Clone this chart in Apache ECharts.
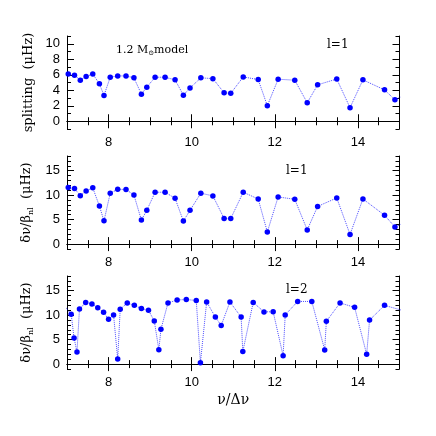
<!DOCTYPE html>
<html>
<head>
<meta charset="utf-8">
<script src="https://cdn.jsdelivr.net/npm/echarts@6/dist/echarts.min.js"></script>
<style>
  html, body { margin: 0; padding: 0; background: #fff; }
  #chart { width: 436px; height: 436px; }
</style>
</head>
<body>
<div id="chart"></div>
<script>
// nu/dnu positions of the l=1 modes (top two panels)
var nuL1 = [7.03, 7.18, 7.32, 7.46, 7.62, 7.78, 7.89, 8.04, 8.22, 8.42, 8.61, 8.79, 8.92, 9.12, 9.36, 9.60, 9.80, 9.96,
  10.22, 10.51, 10.78, 10.94, 11.24, 11.60, 11.82, 12.08, 12.48, 12.78, 13.03, 13.49, 13.81, 14.12, 14.64, 14.89, 15.02];
var splitL1 = [6.1, 5.94, 5.3, 5.77, 6.1, 4.83, 3.33, 5.68, 5.85, 5.85, 5.6, 3.5, 4.4, 5.68, 5.68, 5.34, 3.37, 4.3,
  5.6, 5.5, 3.67, 3.6, 5.72, 5.38, 2.0, 5.42, 5.3, 2.38, 4.7, 5.45, 1.75, 5.34, 4.05, 2.77, 3.1];
var ratioL1 = [11.57, 11.36, 9.9, 10.87, 11.5, 7.77, 4.75, 10.4, 11.2, 11.15, 10.05, 4.9, 6.9, 10.6, 10.6, 9.36, 4.7, 6.9,
  10.4, 9.85, 5.23, 5.23, 10.6, 9.22, 2.48, 9.64, 9.15, 2.9, 7.7, 9.43, 1.98, 9.22, 5.9, 3.5, 4.0];
// l=2 modes (bottom panel)
var nuL2 = [6.95, 7.10, 7.17, 7.24, 7.30, 7.45, 7.60, 7.74, 7.88, 8.00, 8.12, 8.22, 8.28, 8.45, 8.62, 8.79, 8.96, 9.10,
  9.21, 9.26, 9.43, 9.65, 9.87, 10.11, 10.21, 10.36, 10.57, 10.71, 10.92, 11.19, 11.23, 11.48, 11.74, 11.96, 12.20,
  12.25, 12.55, 12.89, 13.20, 13.24, 13.57, 13.92, 14.21, 14.28, 14.64, 15.1];
var ratioL2 = [11.8, 10.2, 5.35, 2.45, 11.25, 12.6, 12.3, 11.5, 10.6, 9.15, 10.05, 1.03, 11.2, 12.5, 12.0, 11.36, 11.0, 8.8,
  2.95, 7.1, 12.5, 13.1, 13.2, 13.0, 0.27, 12.7, 9.6, 7.9, 12.7, 9.6, 2.55, 12.6, 10.67, 10.7, 1.7,
  10.05, 12.8, 12.8, 2.9, 8.74, 12.5, 11.6, 2.0, 9.0, 12.0, 10.9];

// ticks
var xMajor = [8, 10, 12, 14];
var xMinor = [7, 7.5, 8, 8.5, 9, 9.5, 10, 10.5, 11, 11.5, 12, 12.5, 13, 13.5, 14, 14.5, 15];
var ySplitMajor = [0, 2, 4, 6, 8, 10];
var ySplitMinor = [-1, 0, 1, 2, 3, 4, 5, 6, 7, 8, 9, 10, 11];
var yRatioMajor = [0, 5, 10, 15];
var yRatioMinor = [-1, 0, 1, 2, 3, 4, 5, 6, 7, 8, 9, 10, 11, 12, 13, 14, 15, 16, 17, 18];

var blue = '#0000ff';
var serif = '"DejaVu Serif", "Liberation Serif", serif';
var sans = '"Liberation Sans", Arial, sans-serif';

var gridTops = [36, 156, 276];
var grids = gridTops.map(function (t) {
  return { left: 67, right: 36.5, top: t, height: 93, show: false };
});

var xAxes = [], yAxes = [];

function tickAxis(kind, g, pos, min, max, ticks, len, line, labels, extra) {
  var ax = {
    type: 'value', gridIndex: g, position: pos, min: min, max: max,
    splitLine: { show: false },
    axisLine: { show: line, lineStyle: { color: '#000', width: 1 } },
    axisTick: { show: true, inside: true, length: len, customValues: ticks, lineStyle: { color: '#000', width: 1 } },
    axisLabel: labels ? { show: true, customValues: labels, color: '#000', fontSize: 13, fontFamily: sans, margin: 7 }
                      : { show: false }
  };
  for (var k in extra) ax[k] = extra[k];
  (kind === 'x' ? xAxes : yAxes).push(ax);
}

var yRanges = [[-1, 11, ySplitMajor, ySplitMinor], [-1, 18, yRatioMajor, yRatioMinor], [-1, 18, yRatioMajor, yRatioMinor]];
var ratioName = '{t|δν/β}{s|nl}{t|  (μHz)}';
var yNames = ['{t|splitting  (μHz)}', ratioName, ratioName];

for (var g = 0; g < 3; g++) {
  var xExtra = {};
  if (g === 2) {
    xExtra = {
      name: 'ν/Δν', nameLocation: 'middle', nameGap: 24,
      nameTextStyle: { fontFamily: serif, fontSize: 14, color: '#000' }
    };
  }
  tickAxis('x', g, 'bottom', 7, 15, xMajor, 7, true, xMajor, xExtra);
  tickAxis('x', g, 'bottom', 7, 15, xMinor, 4, false, null, {});
  tickAxis('x', g, 'top', 7, 15, xMajor, 7, true, null, {});
  tickAxis('x', g, 'top', 7, 15, xMinor, 4, false, null, {});

  var r = yRanges[g];
  tickAxis('y', g, 'left', r[0], r[1], r[2], 7, true, r[2], {
    name: yNames[g], nameLocation: 'middle', nameGap: 24,
    nameTextStyle: {
      color: '#000',
      rich: {
        t: { fontFamily: serif, fontSize: 13, lineHeight: 16, color: '#000' },
        s: { fontFamily: serif, fontSize: 8, lineHeight: 8, verticalAlign: 'bottom', color: '#000' }
      }
    }
  });
  tickAxis('y', g, 'left', r[0], r[1], r[3], 4, false, null, {});
  tickAxis('y', g, 'right', r[0], r[1], r[2], 7, true, null, {});
  tickAxis('y', g, 'right', r[0], r[1], r[3], 4, false, null, {});
}

function pairs(xs, ys) {
  return xs.map(function (x, i) { return [x, ys[i]]; });
}

function dotted(g, xs, ys) {
  return {
    type: 'line', xAxisIndex: g * 4, yAxisIndex: g * 4,
    data: pairs(xs, ys), clip: true,
    symbol: 'circle', symbolSize: 5.5,
    itemStyle: { color: blue },
    lineStyle: { color: blue, width: 1, type: 'dotted', opacity: 0.7 },
    animation: false
  };
}

var chart = echarts.init(document.getElementById('chart'));
chart.setOption({
  backgroundColor: '#fff',
  animation: false,
  grid: grids,
  xAxis: xAxes,
  yAxis: yAxes,
  series: [
    dotted(0, nuL1, splitL1),
    dotted(1, nuL1, ratioL1),
    dotted(2, nuL2, ratioL2)
  ],
  graphic: [
    {
      type: 'text', left: 116, top: 45,
      style: {
        text: '{t|1.2 M}{s|⊙}{t|model}',
        rich: {
          t: { fontFamily: serif, fontSize: 11, lineHeight: 13, fill: '#000' },
          s: { fontFamily: serif, fontSize: 7, lineHeight: 7, verticalAlign: 'bottom', fill: '#000' }
        }
      }
    },
    { type: 'text', left: 327, top: 39, style: { text: 'l=1', fontFamily: serif, fontSize: 12, fill: '#000' } },
    { type: 'text', left: 286, top: 165, style: { text: 'l=1', fontFamily: serif, fontSize: 12, fill: '#000' } },
    { type: 'text', left: 286, top: 284, style: { text: 'l=2', fontFamily: serif, fontSize: 12, fill: '#000' } }
  ]
});
</script>
</body>
</html>
